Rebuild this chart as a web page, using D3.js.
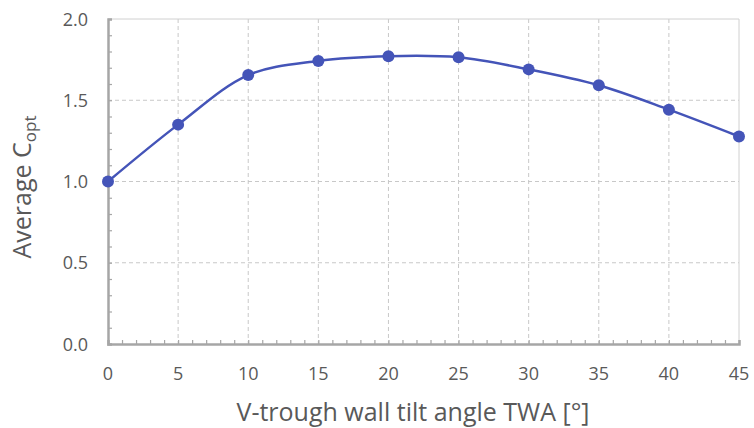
<!DOCTYPE html>
<html>
<head>
<meta charset="utf-8">
<script src="https://cdn.jsdelivr.net/npm/d3@7"></script>
<style>
  body { margin: 0; background: #fff; }
  text { font-family: "Open Sans", "DejaVu Sans", sans-serif; fill: #595959; }
</style>
</head>
<body>
<script>
// data
const twa = [0, 5, 10, 15, 20, 25, 30, 35, 40, 45];
const copt = [1.0, 1.35, 1.655, 1.742, 1.771, 1.764, 1.69, 1.592, 1.442, 1.277];
const xTicks = [0, 5, 10, 15, 20, 25, 30, 35, 40, 45];
const yTicks = [0, 0.5, 1.0, 1.5, 2.0];

const width = 754, height = 428,
      m = {left: 108, right: 15, top: 19, bottom: 84},
      svg = d3.select("body").append("svg")
              .attr("width", width)
              .attr("height", height),
      xScale = d3.scaleLinear().domain([0, 45]).range([m.left, width - m.right]),
      yScale = d3.scaleLinear().domain([0, 2]).range([height - m.bottom, m.top]);

const color = "#4454b8", grid = "#c8c8c8", axisCol = "#a6a6a6";

// grid lines
svg.selectAll("line.vgrid")
   .data(xTicks.slice(1, -1))
   .enter().append("line")
   .attr("x1", d => xScale(d)).attr("x2", d => xScale(d))
   .attr("y1", yScale(2)).attr("y2", yScale(0))
   .attr("stroke", grid).attr("stroke-dasharray", "4,3");
svg.selectAll("line.hgrid")
   .data(yTicks.slice(1, -1))
   .enter().append("line")
   .attr("x1", xScale(0)).attr("x2", xScale(45))
   .attr("y1", d => yScale(d)).attr("y2", d => yScale(d))
   .attr("stroke", grid).attr("stroke-dasharray", "4,3");

// frame top/right
svg.append("path")
   .attr("d", `M${xScale(0)},${yScale(2)}H${xScale(45)}V${yScale(0)}`)
   .attr("fill", "none").attr("stroke", "#d0d0d0");

// axes with inward minor ticks
const xAxis = svg.append("g").attr("transform", `translate(0,${yScale(0)})`)
   .call(d3.axisBottom(xScale).tickValues(d3.range(0, 46, 1)).tickSize(-4).tickFormat(""));
const yAxis = svg.append("g").attr("transform", `translate(${xScale(0)},0)`)
   .call(d3.axisLeft(yScale).tickValues(d3.range(0, 2.01, 0.1)).tickSize(-4).tickFormat(""));
[xAxis, yAxis].forEach(a => {
  a.select(".domain").attr("stroke", axisCol).attr("stroke-width", 2.5);
  a.selectAll(".tick line").attr("stroke", axisCol).attr("stroke-width", 1.2);
});

// tick labels
svg.selectAll("text.xl")
   .data(xTicks)
   .enter().append("text")
   .attr("x", d => xScale(d)).attr("y", yScale(0) + 36)
   .attr("text-anchor", "middle").attr("font-size", 18)
   .text(d => d);
svg.selectAll("text.yl")
   .data(yTicks)
   .enter().append("text")
   .attr("x", xScale(0) - 20).attr("y", d => yScale(d) + 6.5)
   .attr("text-anchor", "end").attr("font-size", 18)
   .text(d => d.toFixed(1));

// axis titles
svg.append("text")
   .attr("x", 413).attr("y", 421)
   .attr("text-anchor", "middle").attr("font-size", 25)
   .text("V-trough wall tilt angle TWA [°]");
const yt = svg.append("text")
   .attr("transform", `translate(31,187) rotate(-90)`)
   .attr("text-anchor", "middle").attr("font-size", 25);
yt.append("tspan").text("Average C");
yt.append("tspan").attr("font-size", 17).attr("dy", 5).text("opt");

// line and markers
const line = d3.line()
   .x((d, i) => xScale(twa[i]))
   .y(d => yScale(d))
   .curve(d3.curveCatmullRom.alpha(0.5));
svg.append("path")
   .attr("d", line(copt))
   .attr("fill", "none").attr("stroke", color).attr("stroke-width", 2.5);
svg.selectAll("circle")
   .data(copt)
   .enter().append("circle")
   .attr("cx", (d, i) => xScale(twa[i]))
   .attr("cy", d => yScale(d))
   .attr("r", 6)
   .attr("fill", color);
</script>
</body>
</html>
